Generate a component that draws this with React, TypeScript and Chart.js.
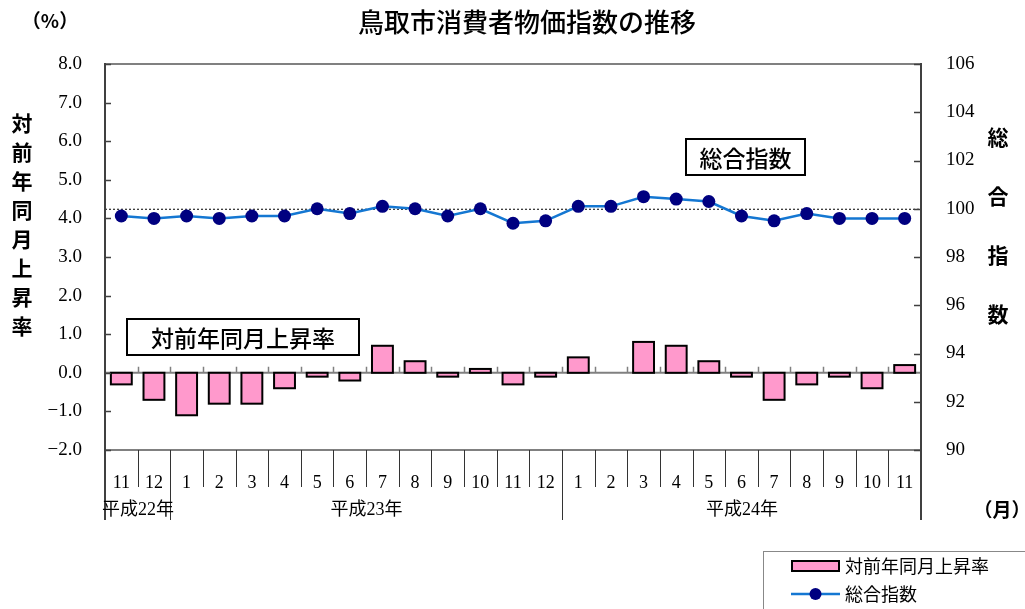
import React, { useEffect, useRef } from "react";
import { Chart, registerables } from "chart.js";

Chart.register(...registerables);

const months = ["11", "12", "1", "2", "3", "4", "5", "6", "7", "8", "9", "10", "11", "12", "1", "2", "3", "4", "5", "6", "7", "8", "9", "10", "11"];
const rateValues = [-0.3, -0.7, -1.1, -0.8, -0.8, -0.4, -0.1, -0.2, 0.7, 0.3, -0.1, 0.1, -0.3, -0.1, 0.4, 0.0, 0.8, 0.7, 0.3, -0.1, -0.7, -0.3, -0.1, -0.4, 0.2];
const indexValues = [99.7, 99.6, 99.7, 99.6, 99.7, 99.7, 100.0, 99.8, 100.1, 100.0, 99.7, 100.0, 99.4, 99.5, 100.1, 100.1, 100.5, 100.4, 100.3, 99.7, 99.5, 99.8, 99.6, 99.6, 99.6];
const yearLabels = ["平成22年", "平成23年", "平成24年"];
const yearStarts = [0, 2, 14];

const TITLE = "鳥取市消費者物価指数の推移";
const RATE_NAME = "対前年同月上昇率";
const INDEX_NAME = "総合指数";

const CJK = "'Noto Sans CJK JP', sans-serif";
const SERIF = "'Liberation Serif', 'Noto Sans CJK JP', serif";

const BAR_FILL = "#FF99CC";
const LINE_COLOR = "#1477D2";
const POINT_COLOR = "#000080";

const barOutlinePlugin = {
  id: "barOutline",
  afterDatasetDraw(chart: any, args: any) {
    if (args.meta.type !== "bar") return;
    const { ctx } = chart;
    ctx.save();
    ctx.strokeStyle = "#000";
    ctx.lineWidth = 2;
    args.meta.data.forEach((el: any, i: number) => {
      if (rateValues[i] === 0) return;
      const left = el.x - el.width / 2;
      const top = Math.min(el.y, el.base);
      const h = Math.abs(el.base - el.y);
      ctx.strokeRect(left, top, el.width, h);
    });
    ctx.restore();
  },
};

const decorPlugin = {
  id: "decor",
  beforeDatasetsDraw(chart: any) {
    const { ctx, chartArea: ca, scales } = chart;
    const x = scales.x;
    const y = scales.y;
    const y1 = scales.y1;
    const n = months.length;
    const cw = (ca.right - ca.left) / n;
    ctx.save();
    const y100 = y1.getPixelForValue(100);
    ctx.strokeStyle = "#000";
    ctx.lineWidth = 1;
    ctx.setLineDash([2, 2]);
    ctx.beginPath();
    ctx.moveTo(ca.left, y100 + 0.5);
    ctx.lineTo(ca.right, y100 + 0.5);
    ctx.stroke();
    ctx.setLineDash([]);
    const y0 = y.getPixelForValue(0);
    ctx.strokeStyle = "#808080";
    ctx.lineWidth = 2;
    ctx.beginPath();
    ctx.moveTo(ca.left, y0);
    ctx.lineTo(ca.right, y0);
    ctx.stroke();
    ctx.lineWidth = 1.5;
    ctx.beginPath();
    for (let i = 1; i < n; i++) {
      const bx = Math.round(x.getPixelForValue(i) - cw / 2) + 0.5;
      ctx.moveTo(bx, y0);
      ctx.lineTo(bx, y0 - 6);
    }
    ctx.stroke();
    ctx.restore();
  },
  afterDraw(chart: any) {
    const { ctx, chartArea: ca, scales } = chart;
    const x = scales.x;
    const y = scales.y;
    const y1 = scales.y1;
    const n = months.length;
    const cw = (ca.right - ca.left) / n;
    const boundary = (i: number) => Math.round(x.getPixelForValue(i) - cw / 2) + 0.5;
    ctx.save();
    ctx.strokeStyle = "#808080";
    ctx.lineWidth = 2;
    ctx.beginPath();
    ctx.moveTo(ca.left, ca.top);
    ctx.lineTo(ca.right, ca.top);
    ctx.moveTo(ca.left, ca.bottom);
    ctx.lineTo(ca.right, ca.bottom);
    ctx.stroke();
    ctx.strokeStyle = "#404040";
    ctx.lineWidth = 2;
    ctx.beginPath();
    ctx.moveTo(ca.left, ca.top - 1);
    ctx.lineTo(ca.left, ca.bottom + 70);
    ctx.moveTo(ca.right, ca.top - 1);
    ctx.lineTo(ca.right, ca.bottom + 70);
    ctx.stroke();
    ctx.lineWidth = 1.5;
    ctx.beginPath();
    y.ticks.forEach((t: any) => {
      const py = Math.round(y.getPixelForValue(t.value)) + 0.5;
      ctx.moveTo(ca.left, py);
      ctx.lineTo(ca.left + 6, py);
    });
    y1.ticks.forEach((t: any) => {
      const py = Math.round(y1.getPixelForValue(t.value)) + 0.5;
      ctx.moveTo(ca.right, py);
      ctx.lineTo(ca.right - 7, py);
    });
    ctx.stroke();
    ctx.strokeStyle = "#333";
    ctx.lineWidth = 1;
    ctx.beginPath();
    for (let i = 1; i < n; i++) {
      const bx = boundary(i);
      const long = yearStarts.includes(i);
      ctx.moveTo(bx, ca.bottom);
      ctx.lineTo(bx, ca.bottom + (long ? 70 : 37));
    }
    ctx.stroke();
    ctx.fillStyle = "#000";
    ctx.font = `18px ${SERIF}`;
    ctx.textAlign = "center";
    ctx.textBaseline = "middle";
    yearLabels.forEach((lab, k) => {
      const s = yearStarts[k];
      const e = k + 1 < yearStarts.length ? yearStarts[k + 1] : n;
      const cx = (boundary(s) + boundary(e)) / 2;
      ctx.fillText(lab, cx, ca.bottom + 60);
    });
    ctx.font = `500 26px ${CJK}`;
    ctx.fillText(TITLE, 527, 22);
    ctx.font = `bold 19px ${CJK}`;
    ctx.fillText("（%）", 50, 21);
    ctx.font = `bold 19px ${CJK}`;
    ctx.fillText("（月）", 1002, 510);
    ctx.font = `bold 21px ${CJK}`;
    Array.from(RATE_NAME).forEach((ch, i) => {
      ctx.fillText(ch, 22, 123 + i * 29);
    });
    Array.from(INDEX_NAME).forEach((ch, i) => {
      ctx.fillText(ch, 998, 137 + i * 59);
    });
    const box = (text: string, bx: number, by: number, bw: number, bh: number) => {
      ctx.fillStyle = "#fff";
      ctx.fillRect(bx, by, bw, bh);
      ctx.strokeStyle = "#000";
      ctx.lineWidth = 2;
      ctx.strokeRect(bx, by, bw, bh);
      ctx.fillStyle = "#000";
      ctx.font = `500 23px ${CJK}`;
      ctx.fillText(text, bx + bw / 2, by + bh / 2 + 1);
    };
    box(INDEX_NAME, 686, 139, 119, 36);
    box(RATE_NAME, 127, 319, 232, 36);
    ctx.strokeStyle = "#888";
    ctx.lineWidth = 1;
    ctx.strokeRect(763.5, 551.5, 300, 100);
    ctx.fillStyle = BAR_FILL;
    ctx.fillRect(792, 561, 47, 10);
    ctx.strokeStyle = "#000";
    ctx.lineWidth = 2;
    ctx.strokeRect(792, 561, 47, 10);
    ctx.strokeStyle = LINE_COLOR;
    ctx.lineWidth = 2.5;
    ctx.beginPath();
    ctx.moveTo(791, 594);
    ctx.lineTo(840, 594);
    ctx.stroke();
    ctx.fillStyle = POINT_COLOR;
    ctx.beginPath();
    ctx.arc(815.5, 594, 6, 0, Math.PI * 2);
    ctx.fill();
    ctx.fillStyle = "#000";
    ctx.font = `18px ${CJK}`;
    ctx.textAlign = "left";
    ctx.fillText(RATE_NAME, 845, 566);
    ctx.fillText(INDEX_NAME, 845, 594);
    ctx.restore();
  },
};

export default function App() {
  const ref = useRef<HTMLCanvasElement | null>(null);
  useEffect(() => {
    if (!ref.current) return;
    const chart = new Chart(ref.current, {
      type: "bar",
      data: {
        labels: months,
        datasets: [
          {
            type: "line",
            label: INDEX_NAME,
            data: indexValues,
            yAxisID: "y1",
            borderColor: LINE_COLOR,
            borderWidth: 2.5,
            pointBackgroundColor: POINT_COLOR,
            pointBorderColor: POINT_COLOR,
            pointRadius: 6.5,
            pointBorderWidth: 0,
            tension: 0,
            order: 0,
          } as any,
          {
            type: "bar",
            label: RATE_NAME,
            data: rateValues,
            yAxisID: "y",
            backgroundColor: BAR_FILL,
            borderWidth: 0,
            categoryPercentage: 1,
            barPercentage: 0.64,
            order: 1,
          } as any,
        ],
      },
      options: {
        animation: false,
        responsive: false,
        devicePixelRatio: 1,
        layout: { padding: { top: 64, left: 0, right: 0, bottom: 0 } },
        plugins: {
          legend: { display: false },
          tooltip: { enabled: false },
          title: { display: false },
        },
        scales: {
          x: {
            type: "category",
            offset: true,
            grid: { display: false },
            border: { display: false },
            ticks: {
              color: "#000",
              font: { family: SERIF, size: 18 },
              padding: 14,
              maxRotation: 0,
              autoSkip: false,
            },
            afterFit(scale: any) {
              scale.height = 159;
            },
          },
          y: {
            position: "left",
            min: -2,
            max: 8,
            grid: { display: false },
            border: { display: false },
            ticks: {
              stepSize: 1,
              color: "#000",
              font: { family: SERIF, size: 19 },
              padding: 15,
              callback: (v: any) => (v < 0 ? "−" : "") + Math.abs(Number(v)).toFixed(1),
            },
            afterFit(scale: any) {
              scale.width = 105;
            },
          },
          y1: {
            position: "right",
            min: 90,
            max: 106,
            grid: { display: false },
            border: { display: false },
            ticks: {
              stepSize: 2,
              color: "#000",
              font: { family: SERIF, size: 19 },
              padding: 17,
            },
            afterFit(scale: any) {
              scale.width = 104;
            },
          },
        },
      },
      plugins: [barOutlinePlugin, decorPlugin],
    });
    return () => chart.destroy();
  }, []);
  return (
    <div style={{ position: "fixed", left: 0, top: 0, width: 1025, height: 609, background: "#fff" }}>
      <canvas ref={ref} width={1025} height={609} style={{ display: "block", width: 1025, height: 609 }} />
    </div>
  );
}
